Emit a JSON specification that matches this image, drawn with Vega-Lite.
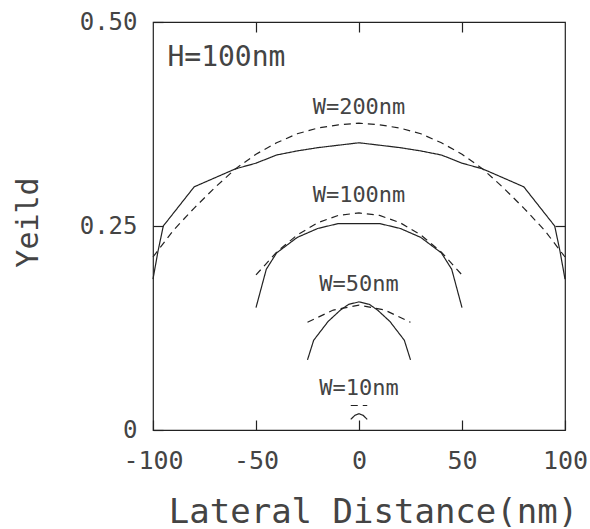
{
  "$schema": "https://vega.github.io/schema/vega-lite/v6.json",
  "width": 412,
  "height": 408,
  "autosize": "none",
  "padding": {"left": 153, "top": 22, "right": 25, "bottom": 99},
  "background": "white",
  "config": {
    "view": {"stroke": "#222", "strokeWidth": 1.2},
    "font": "DejaVu Sans Mono",
    "axis": {"grid": false, "domain": false, "tickColor": "#222", "tickWidth": 1.2, "labelColor": "#444", "titleColor": "#444", "labelFont": "DejaVu Sans Mono", "titleFont": "DejaVu Sans Mono", "titleFontWeight": "normal"}
  },
  "datasets": {
    "curves": [
      {"s": "W200s", "d": "solid", "x": -100, "y": 0.185},
      {"s": "W200s", "d": "solid", "x": -97.5, "y": 0.22},
      {"s": "W200s", "d": "solid", "x": -95, "y": 0.25},
      {"s": "W200s", "d": "solid", "x": -80, "y": 0.298},
      {"s": "W200s", "d": "solid", "x": -60, "y": 0.32},
      {"s": "W200s", "d": "solid", "x": -50, "y": 0.327},
      {"s": "W200s", "d": "solid", "x": -40, "y": 0.337},
      {"s": "W200s", "d": "solid", "x": -30, "y": 0.342},
      {"s": "W200s", "d": "solid", "x": -20, "y": 0.346},
      {"s": "W200s", "d": "solid", "x": 0, "y": 0.352},
      {"s": "W200s", "d": "solid", "x": 20, "y": 0.346},
      {"s": "W200s", "d": "solid", "x": 30, "y": 0.342},
      {"s": "W200s", "d": "solid", "x": 40, "y": 0.337},
      {"s": "W200s", "d": "solid", "x": 50, "y": 0.327},
      {"s": "W200s", "d": "solid", "x": 60, "y": 0.32},
      {"s": "W200s", "d": "solid", "x": 80, "y": 0.298},
      {"s": "W200s", "d": "solid", "x": 95, "y": 0.25},
      {"s": "W200s", "d": "solid", "x": 97.5, "y": 0.22},
      {"s": "W200s", "d": "solid", "x": 100, "y": 0.185},
      {"s": "W200d", "d": "dashed", "x": -100, "y": 0.212},
      {"s": "W200d", "d": "dashed", "x": -90, "y": 0.245},
      {"s": "W200d", "d": "dashed", "x": -80, "y": 0.272},
      {"s": "W200d", "d": "dashed", "x": -70, "y": 0.297},
      {"s": "W200d", "d": "dashed", "x": -60, "y": 0.32},
      {"s": "W200d", "d": "dashed", "x": -50, "y": 0.338},
      {"s": "W200d", "d": "dashed", "x": -40, "y": 0.352},
      {"s": "W200d", "d": "dashed", "x": -30, "y": 0.363},
      {"s": "W200d", "d": "dashed", "x": -20, "y": 0.37},
      {"s": "W200d", "d": "dashed", "x": -10, "y": 0.374},
      {"s": "W200d", "d": "dashed", "x": 0, "y": 0.376},
      {"s": "W200d", "d": "dashed", "x": 10, "y": 0.374},
      {"s": "W200d", "d": "dashed", "x": 20, "y": 0.37},
      {"s": "W200d", "d": "dashed", "x": 30, "y": 0.363},
      {"s": "W200d", "d": "dashed", "x": 40, "y": 0.352},
      {"s": "W200d", "d": "dashed", "x": 50, "y": 0.338},
      {"s": "W200d", "d": "dashed", "x": 60, "y": 0.32},
      {"s": "W200d", "d": "dashed", "x": 70, "y": 0.297},
      {"s": "W200d", "d": "dashed", "x": 80, "y": 0.272},
      {"s": "W200d", "d": "dashed", "x": 90, "y": 0.245},
      {"s": "W200d", "d": "dashed", "x": 100, "y": 0.212},
      {"s": "W100s", "d": "solid", "x": -50, "y": 0.15},
      {"s": "W100s", "d": "solid", "x": -45, "y": 0.197},
      {"s": "W100s", "d": "solid", "x": -40, "y": 0.217},
      {"s": "W100s", "d": "solid", "x": -30, "y": 0.236},
      {"s": "W100s", "d": "solid", "x": -20, "y": 0.247},
      {"s": "W100s", "d": "solid", "x": -10, "y": 0.253},
      {"s": "W100s", "d": "solid", "x": 10, "y": 0.253},
      {"s": "W100s", "d": "solid", "x": 20, "y": 0.247},
      {"s": "W100s", "d": "solid", "x": 30, "y": 0.236},
      {"s": "W100s", "d": "solid", "x": 40, "y": 0.217},
      {"s": "W100s", "d": "solid", "x": 45, "y": 0.197},
      {"s": "W100s", "d": "solid", "x": 50, "y": 0.15},
      {"s": "W100d", "d": "dashed", "x": -50, "y": 0.19},
      {"s": "W100d", "d": "dashed", "x": -40, "y": 0.218},
      {"s": "W100d", "d": "dashed", "x": -30, "y": 0.239},
      {"s": "W100d", "d": "dashed", "x": -20, "y": 0.254},
      {"s": "W100d", "d": "dashed", "x": -10, "y": 0.263},
      {"s": "W100d", "d": "dashed", "x": 0, "y": 0.266},
      {"s": "W100d", "d": "dashed", "x": 10, "y": 0.263},
      {"s": "W100d", "d": "dashed", "x": 20, "y": 0.254},
      {"s": "W100d", "d": "dashed", "x": 30, "y": 0.239},
      {"s": "W100d", "d": "dashed", "x": 40, "y": 0.218},
      {"s": "W100d", "d": "dashed", "x": 50, "y": 0.19},
      {"s": "W50s", "d": "solid", "x": -25, "y": 0.086},
      {"s": "W50s", "d": "solid", "x": -22, "y": 0.11},
      {"s": "W50s", "d": "solid", "x": -15, "y": 0.133},
      {"s": "W50s", "d": "solid", "x": -9, "y": 0.147},
      {"s": "W50s", "d": "solid", "x": -5, "y": 0.154},
      {"s": "W50s", "d": "solid", "x": 0, "y": 0.157},
      {"s": "W50s", "d": "solid", "x": 5, "y": 0.154},
      {"s": "W50s", "d": "solid", "x": 9, "y": 0.147},
      {"s": "W50s", "d": "solid", "x": 15, "y": 0.133},
      {"s": "W50s", "d": "solid", "x": 22, "y": 0.11},
      {"s": "W50s", "d": "solid", "x": 25, "y": 0.086},
      {"s": "W50d", "d": "dashed", "x": -25, "y": 0.132},
      {"s": "W50d", "d": "dashed", "x": -12.5, "y": 0.147},
      {"s": "W50d", "d": "dashed", "x": 0, "y": 0.153},
      {"s": "W50d", "d": "dashed", "x": 12.5, "y": 0.147},
      {"s": "W50d", "d": "dashed", "x": 25, "y": 0.132},
      {"s": "W10s", "d": "solid", "x": -4, "y": 0.013},
      {"s": "W10s", "d": "solid", "x": -2, "y": 0.018},
      {"s": "W10s", "d": "solid", "x": 0, "y": 0.02},
      {"s": "W10s", "d": "solid", "x": 2, "y": 0.018},
      {"s": "W10s", "d": "solid", "x": 4, "y": 0.013},
      {"s": "W10d", "d": "dashed", "x": -4, "y": 0.03},
      {"s": "W10d", "d": "dashed", "x": 4, "y": 0.03}
    ],
    "labels": [
      {"kind": "H", "x": -93, "y": 0.456, "text": "H=100nm"},
      {"kind": "W", "x": 0, "y": 0.396, "text": "W=200nm"},
      {"kind": "W", "x": 0, "y": 0.288, "text": "W=100nm"},
      {"kind": "W", "x": 0, "y": 0.179, "text": "W=50nm"},
      {"kind": "W", "x": 0, "y": 0.051, "text": "W=10nm"}
    ]
  },
  "layer": [
    {
      "data": {"name": "curves"},
      "mark": {"type": "line", "color": "#222", "strokeWidth": 1.2},
      "encoding": {
        "x": {"field": "x", "type": "quantitative", "scale": {"domain": [-100, 100], "nice": false, "zero": false},
          "axis": {"orient": "bottom", "values": [-100, -50, 0, 50, 100], "tickSize": -10, "labelPadding": 28, "labelFontSize": 25, "labelExpr": "'' + datum.value", "labelFlush": false, "title": "Lateral Distance(nm)", "titleFontSize": 34, "titleBaseline": "middle", "titleAlign": "center", "titleX": 220, "titleY": 82}},
        "y": {"field": "y", "type": "quantitative", "scale": {"domain": [0, 0.5], "nice": false, "zero": false},
          "axis": {"orient": "left", "values": [0, 0.25, 0.5], "tickSize": -10, "labelPadding": 26, "labelFontSize": 24, "labelExpr": "datum.value == 0 ? '0\u00a0' : format(datum.value, '.2f')", "labelFlush": false, "title": "Yeild", "titleFontSize": 30, "titleAngle": 270, "titleBaseline": "middle", "titleX": -125, "titleY": 200}},
        "detail": {"field": "s"},
        "strokeDash": {"field": "d", "type": "nominal", "scale": {"domain": ["solid", "dashed"], "range": [[1, 0], [7, 5]]}, "legend": null}
      }
    },
    {
      "data": {"name": "labels"},
      "transform": [{"filter": "datum.kind == 'H'"}],
      "mark": {"type": "text", "font": "DejaVu Sans Mono", "fontSize": 28, "color": "#444", "align": "left", "baseline": "middle"},
      "encoding": {
        "x": {"field": "x", "type": "quantitative", "axis": {"orient": "top", "values": [-50, 0, 50], "tickSize": -10, "labels": false, "title": null}},
        "y": {"field": "y", "type": "quantitative", "axis": {"orient": "right", "values": [0.25], "tickSize": -10, "labels": false, "title": null}},
        "text": {"field": "text"}
      }
    },
    {
      "data": {"name": "labels"},
      "transform": [{"filter": "datum.kind == 'W'"}],
      "mark": {"type": "text", "font": "DejaVu Sans Mono", "fontSize": 22, "color": "#444", "align": "center", "baseline": "middle"},
      "encoding": {
        "x": {"field": "x", "type": "quantitative", "axis": null},
        "y": {"field": "y", "type": "quantitative", "axis": null},
        "text": {"field": "text"}
      }
    }
  ],
  "resolve": {"axis": {"x": "independent", "y": "independent"}}
}
